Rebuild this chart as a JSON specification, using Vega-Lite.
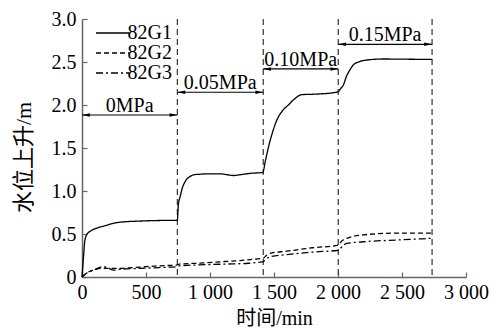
{
  "$schema": "https://vega.github.io/schema/vega-lite/v6.json",
  "width": 384,
  "height": 258,
  "autosize": {"type": "none"},
  "padding": {"left": 82, "top": 19, "right": 28, "bottom": 53},
  "background": "white",
  "config": {
    "view": {"stroke": null},
    "font": "Liberation Serif",
    "axis": {
      "domainColor": "#666666",
      "domainWidth": 1.5,
      "tickColor": "#666666",
      "tickWidth": 1.2,
      "tickSize": -5,
      "grid": false,
      "labelFont": "Liberation Serif",
      "labelFontSize": 20,
      "labelColor": "black",
      "titleFont": "Liberation Serif, Noto Sans CJK SC",
      "titleFontWeight": "normal",
      "titleColor": "black"
    }
  },
  "datasets": {
    "curves": [
      {"t": 0, "h": 0, "s": "82G1"},
      {"t": 10, "h": 0.2, "s": "82G1"},
      {"t": 23, "h": 0.43, "s": "82G1"},
      {"t": 40, "h": 0.5, "s": "82G1"},
      {"t": 62, "h": 0.53, "s": "82G1"},
      {"t": 100, "h": 0.56, "s": "82G1"},
      {"t": 167, "h": 0.59, "s": "82G1"},
      {"t": 284, "h": 0.635, "s": "82G1"},
      {"t": 479, "h": 0.652, "s": "82G1"},
      {"t": 600, "h": 0.657, "s": "82G1"},
      {"t": 745, "h": 0.66, "s": "82G1"},
      {"t": 753, "h": 0.85, "s": "82G1"},
      {"t": 766, "h": 0.93, "s": "82G1"},
      {"t": 785, "h": 1.04, "s": "82G1"},
      {"t": 810, "h": 1.12, "s": "82G1"},
      {"t": 840, "h": 1.165, "s": "82G1"},
      {"t": 880, "h": 1.19, "s": "82G1"},
      {"t": 922, "h": 1.195, "s": "82G1"},
      {"t": 1000, "h": 1.2, "s": "82G1"},
      {"t": 1078, "h": 1.2, "s": "82G1"},
      {"t": 1130, "h": 1.19, "s": "82G1"},
      {"t": 1182, "h": 1.18, "s": "82G1"},
      {"t": 1240, "h": 1.19, "s": "82G1"},
      {"t": 1313, "h": 1.205, "s": "82G1"},
      {"t": 1411, "h": 1.215, "s": "82G1"},
      {"t": 1416, "h": 1.225, "s": "82G1"},
      {"t": 1430, "h": 1.33, "s": "82G1"},
      {"t": 1443, "h": 1.42, "s": "82G1"},
      {"t": 1465, "h": 1.56, "s": "82G1"},
      {"t": 1482, "h": 1.65, "s": "82G1"},
      {"t": 1510, "h": 1.78, "s": "82G1"},
      {"t": 1534, "h": 1.86, "s": "82G1"},
      {"t": 1570, "h": 1.94, "s": "82G1"},
      {"t": 1612, "h": 2.0, "s": "82G1"},
      {"t": 1660, "h": 2.07, "s": "82G1"},
      {"t": 1716, "h": 2.12, "s": "82G1"},
      {"t": 1800, "h": 2.125, "s": "82G1"},
      {"t": 1872, "h": 2.13, "s": "82G1"},
      {"t": 1950, "h": 2.14, "s": "82G1"},
      {"t": 2002, "h": 2.155, "s": "82G1"},
      {"t": 2020, "h": 2.19, "s": "82G1"},
      {"t": 2041, "h": 2.23, "s": "82G1"},
      {"t": 2068, "h": 2.34, "s": "82G1"},
      {"t": 2090, "h": 2.4, "s": "82G1"},
      {"t": 2119, "h": 2.465, "s": "82G1"},
      {"t": 2160, "h": 2.5, "s": "82G1"},
      {"t": 2211, "h": 2.52, "s": "82G1"},
      {"t": 2354, "h": 2.535, "s": "82G1"},
      {"t": 2500, "h": 2.533, "s": "82G1"},
      {"t": 2735, "h": 2.53, "s": "82G1"},
      {"t": 0, "h": 0, "s": "82G2"},
      {"t": 30, "h": 0.04, "s": "82G2"},
      {"t": 89, "h": 0.08, "s": "82G2"},
      {"t": 150, "h": 0.1, "s": "82G2"},
      {"t": 250, "h": 0.1, "s": "82G2"},
      {"t": 400, "h": 0.11, "s": "82G2"},
      {"t": 600, "h": 0.13, "s": "82G2"},
      {"t": 745, "h": 0.14, "s": "82G2"},
      {"t": 760, "h": 0.15, "s": "82G2"},
      {"t": 900, "h": 0.16, "s": "82G2"},
      {"t": 1117, "h": 0.18, "s": "82G2"},
      {"t": 1300, "h": 0.2, "s": "82G2"},
      {"t": 1416, "h": 0.22, "s": "82G2"},
      {"t": 1440, "h": 0.25, "s": "82G2"},
      {"t": 1469, "h": 0.275, "s": "82G2"},
      {"t": 1600, "h": 0.3, "s": "82G2"},
      {"t": 1800, "h": 0.34, "s": "82G2"},
      {"t": 2002, "h": 0.37, "s": "82G2"},
      {"t": 2030, "h": 0.42, "s": "82G2"},
      {"t": 2068, "h": 0.45, "s": "82G2"},
      {"t": 2198, "h": 0.49, "s": "82G2"},
      {"t": 2458, "h": 0.51, "s": "82G2"},
      {"t": 2735, "h": 0.51, "s": "82G2"},
      {"t": 0, "h": 0, "s": "82G3"},
      {"t": 40, "h": 0.05, "s": "82G3"},
      {"t": 89, "h": 0.08, "s": "82G3"},
      {"t": 167, "h": 0.12, "s": "82G3"},
      {"t": 210, "h": 0.1, "s": "82G3"},
      {"t": 245, "h": 0.08, "s": "82G3"},
      {"t": 300, "h": 0.09, "s": "82G3"},
      {"t": 450, "h": 0.1, "s": "82G3"},
      {"t": 600, "h": 0.11, "s": "82G3"},
      {"t": 745, "h": 0.12, "s": "82G3"},
      {"t": 760, "h": 0.13, "s": "82G3"},
      {"t": 900, "h": 0.14, "s": "82G3"},
      {"t": 1117, "h": 0.15, "s": "82G3"},
      {"t": 1300, "h": 0.16, "s": "82G3"},
      {"t": 1416, "h": 0.18, "s": "82G3"},
      {"t": 1440, "h": 0.21, "s": "82G3"},
      {"t": 1469, "h": 0.235, "s": "82G3"},
      {"t": 1600, "h": 0.26, "s": "82G3"},
      {"t": 1800, "h": 0.29, "s": "82G3"},
      {"t": 2002, "h": 0.31, "s": "82G3"},
      {"t": 2030, "h": 0.35, "s": "82G3"},
      {"t": 2068, "h": 0.39, "s": "82G3"},
      {"t": 2198, "h": 0.41, "s": "82G3"},
      {"t": 2458, "h": 0.43, "s": "82G3"},
      {"t": 2735, "h": 0.45, "s": "82G3"}
    ],
    "bounds": [{"x": 745}, {"x": 1416}, {"x": 2002}, {"x": 2735}],
    "arrows": [
      {"x1": 0, "x2": 745, "xm": 372, "y": 1.884, "label": "0MPa"},
      {"x1": 745, "x2": 1416, "xm": 1080, "y": 2.148, "label": "0.05MPa"},
      {"x1": 1416, "x2": 2002, "xm": 1709, "y": 2.419, "label": "0.10MPa"},
      {"x1": 2002, "x2": 2735, "xm": 2368, "y": 2.706, "label": "0.15MPa"}
    ]
  },
  "layer": [
    {
      "data": {"name": "bounds"},
      "mark": {"type": "rule", "strokeDash": [6, 4], "color": "#333333", "strokeWidth": 1.2},
      "encoding": {
        "x": {"field": "x", "type": "quantitative", "scale": {"domain": [0, 3000], "nice": false},
          "axis": {
            "values": [0, 250, 500, 750, 1000, 1250, 1500, 1750, 2000, 2250, 2500, 2750, 3000],
            "labelExpr": "datum.value % 500 == 0 ? (datum.value >= 1000 ? replace(format(datum.value, ','), ',', ' ') : format(datum.value, 'd')) : ''",
            "labelPadding": 10,
            "labelFlush": false,
            "labelOverlap": false,
            "title": "时间/min",
            "titleFontSize": 20,
            "titleBaseline": "middle",
            "titleX": 192,
            "titleY": 41
          }}
      }
    },
    {
      "data": {"name": "curves"},
      "mark": {"type": "line", "color": "black", "strokeWidth": 1.3, "interpolate": "monotone"},
      "encoding": {
        "x": {"field": "t", "type": "quantitative"},
        "y": {"field": "h", "type": "quantitative", "scale": {"domain": [0, 3], "nice": false},
          "axis": {
            "values": [0, 0.25, 0.5, 0.75, 1, 1.25, 1.5, 1.75, 2, 2.25, 2.5, 2.75, 3],
            "labelExpr": "datum.value == 0 ? '0' : ((datum.value * 2) % 1 == 0 ? format(datum.value, '.1f') : '')",
            "labelPadding": 11,
            "labelFlush": false,
            "labelOverlap": false,
            "title": "水位上升/m",
            "titleFontSize": 22,
            "titleAngle": -90,
            "titleBaseline": "middle",
            "titleAlign": "center",
            "titleX": -59,
            "titleY": 138
          }},
        "strokeDash": {
          "field": "s", "type": "nominal",
          "scale": {"domain": ["82G1", "82G2", "82G3"], "range": [[1, 0], [5, 3], [7, 3, 2, 3]]},
          "legend": {
            "orient": "none",
            "legendX": 20.5,
            "legendY": 4,
            "title": null,
            "padding": 0,
            "symbolType": "M-2.75,0H2.75",
            "symbolSize": 144,
            "symbolStrokeColor": "black",
            "symbolStrokeWidth": 1.3,
            "labelFont": "Liberation Serif",
            "labelFontSize": 20,
            "labelColor": "black",
            "labelOffset": 5,
            "rowPadding": -1.5
          }
        }
      }
    },
    {
      "data": {"name": "arrows"},
      "mark": {"type": "rule", "color": "black", "strokeWidth": 1.2},
      "encoding": {
        "x": {"field": "x1", "type": "quantitative"},
        "x2": {"field": "x2"},
        "y": {"field": "y", "type": "quantitative"}
      }
    },
    {
      "data": {"name": "arrows"},
      "mark": {"type": "point", "shape": "M0,0L2.6,-0.6L2.6,0.6Z", "filled": true, "size": 36, "color": "black", "opacity": 1},
      "encoding": {
        "x": {"field": "x1", "type": "quantitative"},
        "y": {"field": "y", "type": "quantitative"}
      }
    },
    {
      "data": {"name": "arrows"},
      "mark": {"type": "point", "shape": "M0,0L-2.6,-0.6L-2.6,0.6Z", "filled": true, "size": 36, "color": "black", "opacity": 1},
      "encoding": {
        "x": {"field": "x2", "type": "quantitative"},
        "y": {"field": "y", "type": "quantitative"}
      }
    },
    {
      "data": {"name": "arrows"},
      "mark": {"type": "text", "font": "Liberation Serif", "fontSize": 20, "color": "black", "baseline": "alphabetic", "align": "center", "dy": -3},
      "encoding": {
        "x": {"field": "xm", "type": "quantitative"},
        "y": {"field": "y", "type": "quantitative"},
        "text": {"field": "label"}
      }
    }
  ]
}
